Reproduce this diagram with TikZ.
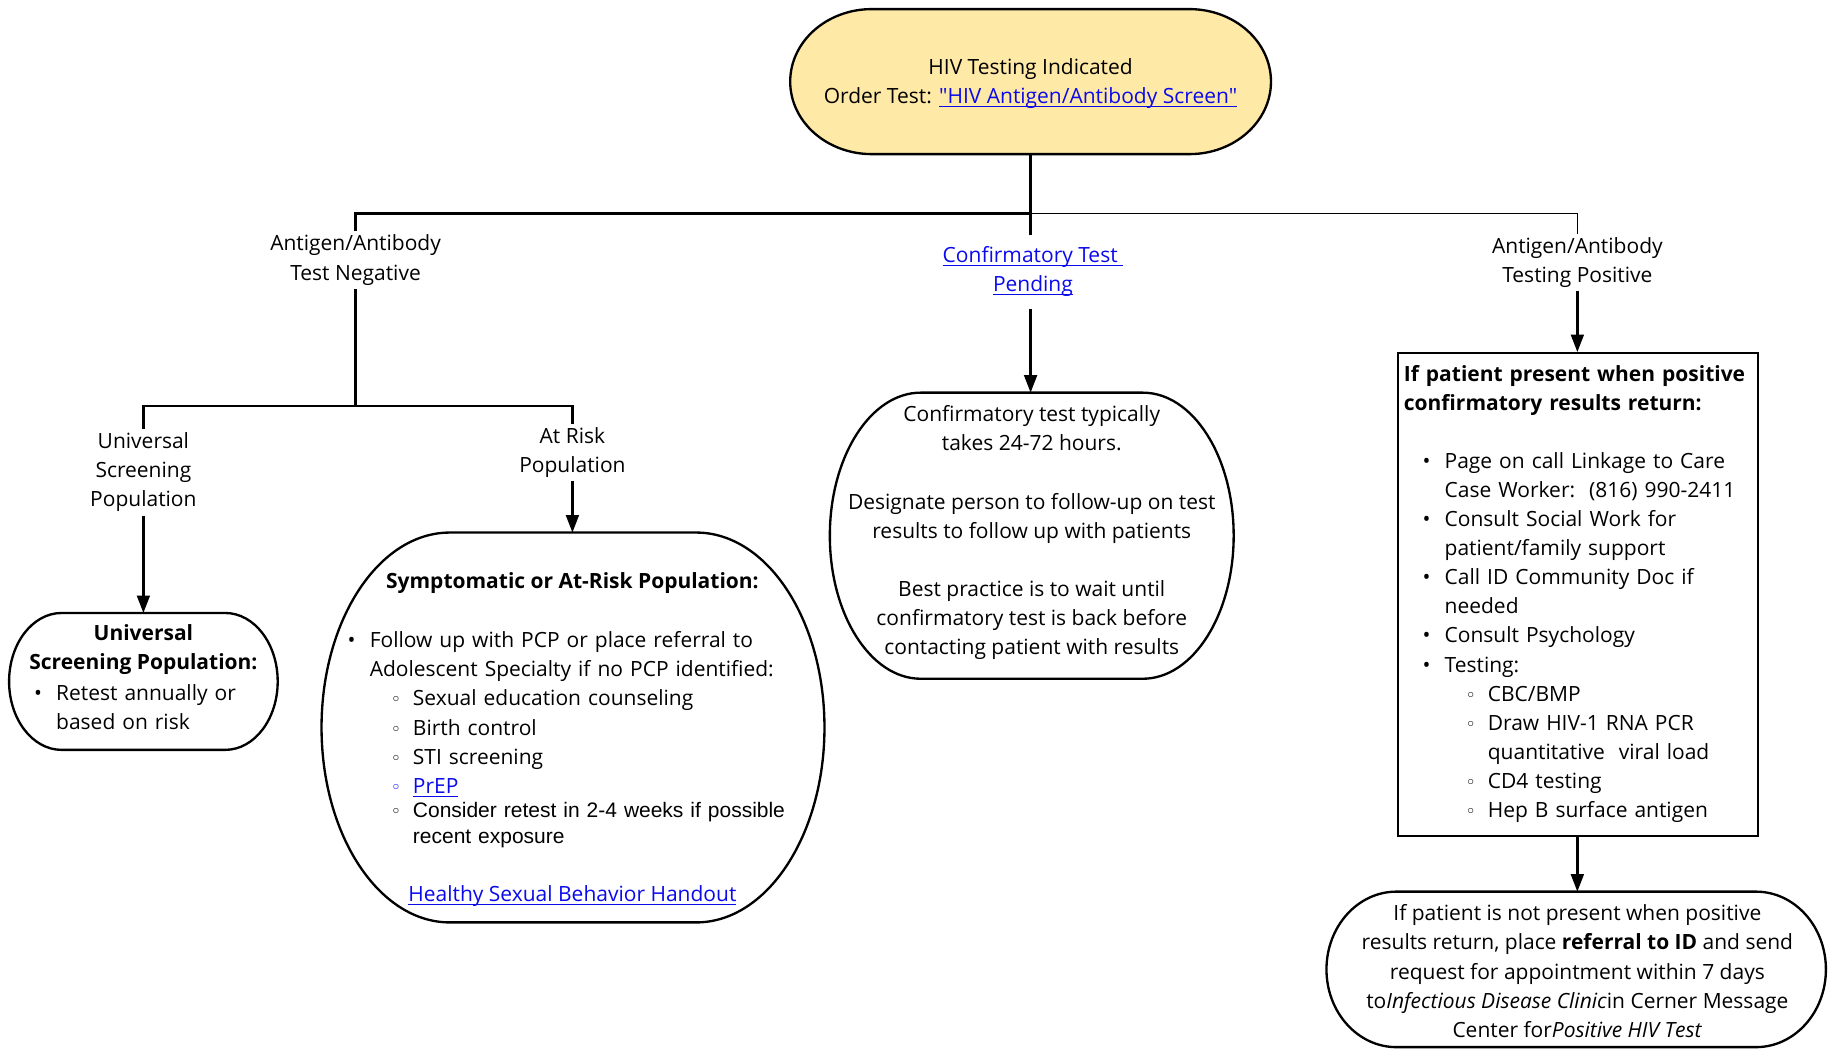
\documentclass[tikz,border=0pt]{standalone}
\usepackage{fontspec}
\setmainfont{Open Sans}
\newfontfamily\arialf{Liberation Sans}
\newfontfamily\dejavu{DejaVu Sans}
\usetikzlibrary{arrows.meta,calc}
\definecolor{linkblue}{RGB}{10,10,235}
\definecolor{hivyellow}{RGB}{255,233,166}
\newcommand\lnk[1]{{\color{linkblue}\setbox0\hbox{#1}\rlap{\rule[-3pt]{\wd0}{1.1pt}}\box0}}
\newcommand\bu{\makebox[19pt][l]{•}}
\newcommand\sbu{\makebox[19pt][l]{{\dejavu\fontsize{15}{15}\selectfont ◦}}}
\newcommand\blobshape[3][white]{% fill, node name, x radius
  \draw[line width=2pt, fill=#1] let \p1=(#2.north west), \p2=(#2.south east), \n1={(\y1-\y2)/2} in
    (\x1+#3pt,\y1) -- (\x2-#3pt,\y1)
    arc[start angle=90, end angle=-90, x radius=#3pt, y radius=\n1]
    -- (\x1+#3pt,\y2)
    arc[start angle=270, end angle=90, x radius=#3pt, y radius=\n1] -- cycle;}
\begin{document}
\begin{tikzpicture}[x=1pt,y=-1pt,
  every node/.style={font=\fontsize{18}{25}\selectfont, inner sep=0pt},
  shapebox/.style 2 args={minimum width=#1pt, minimum height=#2pt, inner sep=0pt},
  lbl/.style={align=center, inner xsep=2pt, inner ysep=#1},
  lbl/.default=3pt,
  ln/.style={line width=2pt},
  arr/.style={line width=2pt, -{Triangle[length=15pt,width=11pt]}},
  lst/.style={anchor=base west, align=left, text width=#1pt}]
\useasboundingbox (0,0) rectangle (1568,900);

% ---- shape nodes
\node[shapebox={412}{124}] (top) at (884,70) {};
\node[shapebox={230}{117}] (uni) at (123,584.5) {};
\node[shapebox={431}{334}] (risk) at (491.5,624) {};
\node[shapebox={346}{245}] (conf) at (885,459.5) {};
\node[shapebox={309}{414}, draw, line width=2pt] (pos) at (1353.5,510) {};
\node[shapebox={428}{133}] (notp) at (1352,831.5) {};

\blobshape[hivyellow]{top}{70}
\blobshape{uni}{45}
\blobshape{risk}{110}
\blobshape{conf}{78}
\blobshape{notp}{60}

% ---- top text
\node[align=center] (topT) at (884,72) {HIV Testing Indicated\\Order Test: \lnk{\textquotedbl HIV Antigen/Antibody Screen\textquotedbl}};

% ---- labels
\node[lbl] (lblNeg) at (305,223) {Antigen/Antibody\\Test Negative};
\node[lbl=10pt] (lblPend) at (886,233) {\lnk{Confirmatory Test\ }\\\lnk{Pending}};
\node[lbl] (lblPos) at (1353,225) {Antigen/Antibody\\Testing Positive};
\node[lbl] (lblUni) at (123,405) {Universal\\Screening\\Population};
\node[lbl] (lblRisk) at (491,388) {At Risk\\Population};

\coordinate (bus) at (884,183);
\coordinate (bus2) at (305,348);

% ---- connectors
\draw[ln] (top.south -| bus) -- (bus |- lblPend.north);
\draw[ln] (lblNeg.north) |- (bus);
\draw[line width=1.4pt] (bus) -| (lblPos.north);
\draw[ln] (lblNeg.south) -- (bus2);
\draw[ln] (lblUni.north) |- (bus2) -| (lblRisk.north);
\draw[arr] (lblUni.south) -- (uni.north -| lblUni.south);
\draw[arr] (lblRisk.south) -- (risk.north -| lblRisk.south);
\draw[arr] (bus |- lblPend.south) -- (conf.north -| bus);
\draw[arr] (lblPos.south) -- (pos.north -| lblPos.south);
\draw[arr] (pos.south -| lblPos.south) -- (notp.north -| lblPos.south);

% ---- universal box text
\node[align=center] (uniH) at (123,557.5) {\bfseries Universal\\\bfseries Screening Population:};
\node[lst=210] (uniL) at (29,600.5) {\bu Retest annually or\\\hspace*{19pt}based on risk};

% ---- symptomatic box text
\node[align=center] (riskH) at (491,500) {\bfseries Symptomatic or At-Risk Population:};
\node[lst=420] (riskL) at (298,555.5) {\bu Follow up with PCP or place referral to\\
\hspace*{19pt}Adolescent Specialty if no PCP identified:\\
\hspace*{37pt}\sbu Sexual education counseling\\
\hspace*{37pt}\sbu Birth control\\
\hspace*{37pt}\sbu STI screening\\
\hspace*{37pt}{\color{linkblue}\sbu}\lnk{PrEP}};
\node[lst=400, font=\arialf\fontsize{18}{22}\selectfont] (riskA) at (335,701.5) {\sbu Consider retest in 2-4 weeks if possible\\\hspace*{19pt}recent exposure};
\node (riskLink) at (491,769) {\lnk{Healthy Sexual Behavior Handout}};

% ---- confirmatory box text
\node[align=center] (confT) at (885,457) {Confirmatory test typically\\takes 24-72 hours.\\[25pt]
Designate person to follow-up on test\\results to follow up with patients\\[25pt]
Best practice is to wait until\\confirmatory test is back before\\contacting patient with results};

% ---- positive box text
\node[lst=320] (posH) at (1204,327) {\bfseries If patient present when positive\\\bfseries confirmatory results return:};
\node[lst=320] (posL) at (1220,401.5) {\bu Page on call Linkage to Care\\
\hspace*{19pt}Case Worker:\ \ (816) 990-2411\\
\bu Consult Social Work for\\
\hspace*{19pt}patient/family support\\
\bu Call ID Community Doc if\\
\hspace*{19pt}needed\\
\bu Consult Psychology\\
\bu Testing:\\
\hspace*{37pt}\sbu CBC/BMP\\
\hspace*{37pt}\sbu Draw HIV-1 RNA PCR\\
\hspace*{56pt}quantitative\ \ viral load\\
\hspace*{37pt}\sbu CD4 testing\\
\hspace*{37pt}\sbu Hep B surface antigen};

% ---- not present text
\node[align=center] (notpT) at (1353,833) {If patient is not present when positive\\
results return, place \textbf{referral to ID} and send\\
request for appointment within 7 days\\
to\textit{Infectious Disease Clinic}in Cerner Message\\
Center for\textit{Positive HIV Test}};
\end{tikzpicture}
\end{document}
